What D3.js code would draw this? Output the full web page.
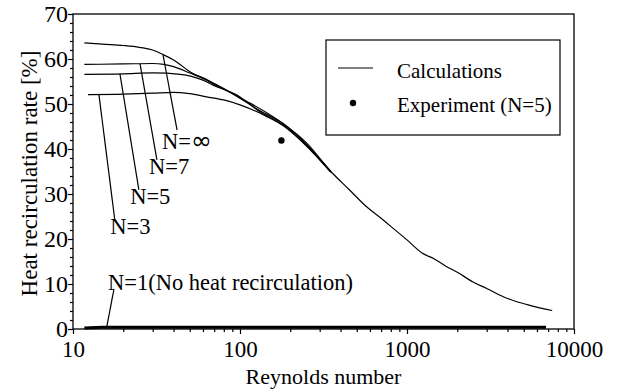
<!DOCTYPE html>
<html>
<head>
<meta charset="utf-8">
<script src="https://cdn.jsdelivr.net/npm/d3@7"></script>
<style>
body { margin: 0; background: #fff; }
text { font-family: "Liberation Serif", "DejaVu Serif", serif; fill: #000; }
</style>
</head>
<body>
<script>
// Reynolds number vs heat recirculation rate [%]
var reInf = [11.7, 15, 20, 25, 30, 35, 40, 52, 60, 73, 83, 104, 120, 174, 251, 350, 450, 575, 700, 830, 1000, 1230, 1450, 1700, 2000, 2500, 3000, 3800, 4500, 5500, 7400];
var valInf = [63.6, 63.3, 63.0, 62.6, 62.0, 60.9, 59.8, 56.8, 55.8, 54.2, 53.1, 51.0, 49.8, 46.1, 41.3, 35.0, 31.0, 27.1, 24.6, 22.3, 19.8, 16.9, 15.6, 14.0, 12.6, 10.4, 9.0, 7.1, 6.1, 5.2, 4.1];

var reN7 = [11.7, 20, 30, 35, 40, 50, 60, 73, 90, 130, 180, 250, 350];
var valN7 = [58.8, 58.9, 59.0, 58.8, 58.3, 56.9, 55.7, 54.0, 52.3, 48.6, 45.7, 41.0, 35.0];

var reN5 = [11.7, 20, 30, 44, 60, 69, 96, 130, 180, 250, 350];
var valN5 = [56.6, 56.7, 56.9, 56.6, 55.3, 54.2, 52.0, 48.4, 45.4, 40.8, 34.9];

var reN3 = [12.3, 20, 30, 40, 50, 63, 80, 100, 145, 181, 251, 350];
var valN3 = [52.1, 52.2, 52.4, 52.6, 52.3, 51.6, 50.9, 49.8, 47.2, 45.2, 40.6, 34.8];

var reN1 = [11.7, 15, 6800];
var valN1 = [0.2, 0.4, 0.4];

var expRe = [177];
var expVal = [41.9];

var yTicks = [0, 10, 20, 30, 40, 50, 60, 70];
var xTicks = [10, 100, 1000, 10000];

// annotations: label, leader start (on curve), leader end, text position
var labels = ["N=\u221E", "N=7", "N=5", "N=3", "N=1(No heat recirculation)"];
var leadFrom = [[34.6, 60.9], [25.2, 58.9], [19.1, 56.7], [14.3, 52.1], [15.9, 0.3]];
var leadTo = [[42, 44.2], [31.8, 37.6], [24.8, 30.9], [17.8, 24.2], [17.6, 8.9]];
var labelAt = [[34.1, 40.0], [28.5, 34.4], [22.0, 27.8], [16.7, 21.1], [16.2, 8.7]];

var w = 621, h = 389;
var pl = 73, pr = 574, pt = 14, pb = 329;

var svg = d3.select("body").append("svg")
  .attr("width", w)
  .attr("height", h);

var x = d3.scaleLog().domain([10, 10000]).range([pl, pr]);
var y = d3.scaleLinear().domain([0, 70]).range([pb, pt]);

function pairs(re, v) {
  return re.map(function(d, i) { return [d, v[i]]; });
}

var line = d3.line()
  .x(function(d) { return x(d[0]); })
  .y(function(d) { return y(d[1]); })
  .curve(d3.curveMonotoneX);

// minor ticks
var minorX = [];
[10, 100, 1000].forEach(function(dec) {
  for (var k = 2; k <= 9; k++) minorX.push(dec * k);
});
var minorY = d3.range(0, 71, 2).filter(function(d) { return d % 10 != 0; });

svg.append("g")
  .attr("transform", "translate(0," + pb + ")")
  .call(d3.axisBottom(x).tickValues(minorX).tickSize(3).tickFormat(""))
  .call(function(g) { g.select(".domain").remove(); });

svg.append("g")
  .attr("transform", "translate(" + pl + ",0)")
  .call(d3.axisLeft(y).tickValues(minorY).tickSize(3).tickFormat(""))
  .call(function(g) { g.select(".domain").remove(); });

var xAxis = svg.append("g")
  .attr("transform", "translate(0," + pb + ")")
  .call(d3.axisBottom(x).tickValues(xTicks).tickSize(5).tickPadding(7).tickFormat(d3.format("d")));
xAxis.select(".domain").remove();
xAxis.selectAll("text").style("font-size", "23px").style("font-family", "Liberation Serif");

var yAxis = svg.append("g")
  .attr("transform", "translate(" + pl + ",0)")
  .call(d3.axisLeft(y).tickValues(yTicks).tickSize(5).tickPadding(0));
yAxis.select(".domain").remove();
yAxis.selectAll("text").style("font-size", "24px").style("font-family", "Liberation Serif");

svg.selectAll(".tick line").attr("stroke", "#000").attr("stroke-width", 1.2);

// frame
svg.append("rect")
  .attr("x", pl).attr("y", pt)
  .attr("width", pr - pl).attr("height", pb - pt)
  .attr("fill", "none").attr("stroke", "#000").attr("stroke-width", 1.3);

// curves
[[reInf, valInf], [reN7, valN7], [reN5, valN5], [reN3, valN3]].forEach(function(s) {
  svg.append("path")
    .attr("d", line(pairs(s[0], s[1])))
    .attr("fill", "none")
    .attr("stroke", "#000")
    .attr("stroke-width", 1.2);
});

svg.append("path")
  .attr("d", d3.line().x(function(d) { return x(d[0]); }).y(function(d) { return y(d[1]); })(pairs(reN1, valN1)))
  .attr("fill", "none")
  .attr("stroke", "#000")
  .attr("stroke-width", 3);

// experiment
svg.selectAll(".exp")
  .data(pairs(expRe, expVal))
  .enter()
  .append("circle")
  .attr("cx", function(d) { return x(d[0]); })
  .attr("cy", function(d) { return y(d[1]); })
  .attr("r", 3.2)
  .attr("fill", "#000");

// leaders + labels
labels.forEach(function(t, i) {
  svg.append("line")
    .attr("x1", x(leadFrom[i][0])).attr("y1", y(leadFrom[i][1]))
    .attr("x2", x(leadTo[i][0])).attr("y2", y(leadTo[i][1]))
    .attr("stroke", "#000").attr("stroke-width", 1.2);
  var tx = svg.append("text")
    .attr("x", x(labelAt[i][0]))
    .attr("y", y(labelAt[i][1]))
    .style("font-size", "22.5px");
  if (t.indexOf("\u221E") >= 0) {
    // the infinity sign is drawn bigger in the original
    tx.append("tspan").text(t.replace("\u221E", ""));
    tx.append("tspan").style("font-family", "DejaVu Sans").style("font-size", "25px").text("\u221E");
  } else {
    tx.text(t);
  }
});

// legend
var lg = svg.append("g");
lg.append("rect")
  .attr("x", 326).attr("y", 40).attr("width", 234).attr("height", 95)
  .attr("fill", "#fff").attr("stroke", "#000").attr("stroke-width", 1.2);
lg.append("line")
  .attr("x1", 338).attr("x2", 373).attr("y1", 68).attr("y2", 68)
  .attr("stroke", "#000").attr("stroke-width", 1.2);
lg.append("circle").attr("cx", 353).attr("cy", 103).attr("r", 3.2).attr("fill", "#000");
lg.append("text").attr("x", 397).attr("y", 78).style("font-size", "21px").text("Calculations");
lg.append("text").attr("x", 397).attr("y", 112).style("font-size", "21px").text("Experiment (N=5)");

// axis titles
svg.append("text")
  .attr("x", (pl + pr) / 2)
  .attr("y", 384)
  .attr("text-anchor", "middle")
  .style("font-size", "22px")
  .text("Reynolds number");

svg.append("text")
  .attr("transform", "translate(37," + ((pt + pb) / 2 + 2) + ") rotate(-90)")
  .attr("text-anchor", "middle")
  .style("font-size", "23px")
  .text("Heat recirculation rate [%]");
</script>
</body>
</html>
